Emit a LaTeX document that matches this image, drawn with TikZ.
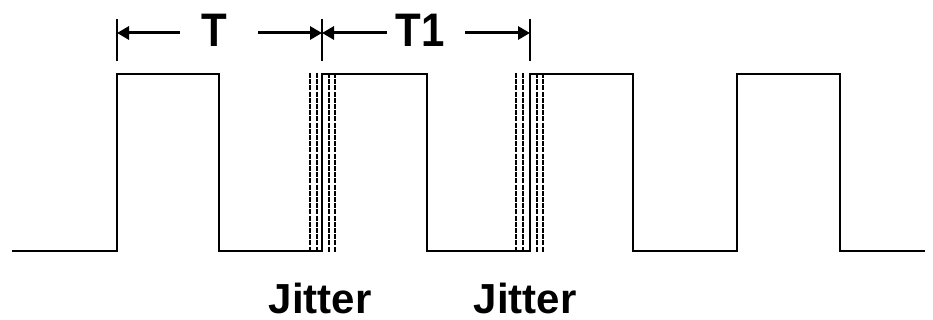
\documentclass[tikz,border=0pt]{standalone}
\usepackage{fontspec}
\setmainfont{Liberation Sans}
\usetikzlibrary{arrows.meta}
\tikzset{
  wave/.style={line width=2pt, line join=miter},
  jit/.style={line width=2pt, dash pattern=on 5pt off 1.2pt},
  tick/.style={line width=2pt},
  dimarrow/.style={line width=3pt, -{Triangle[length=12pt,width=13pt]}},
  lbl/.style={inner sep=0pt, anchor=base, font=\bfseries\fontsize{42}{42}\selectfont},
}
\begin{document}
\begin{tikzpicture}[x=1pt,y=-1pt]
\useasboundingbox (0,0) rectangle (933,320);
% waveform
\draw[wave] (12,251) -- (117,251) -- (117,74) -- (219,74) -- (219,251) -- (322,251) -- (322,74)
  -- (427,74) -- (427,251) -- (530,251) -- (530,74) -- (633,74) -- (633,251) -- (737,251)
  -- (737,74) -- (840,74) -- (840,251) -- (925,251);
% jitter lines
\foreach \x in {310,317,329,335,516,523,537,543}
  \draw[jit] (\x,73) -- (\x,252);
% ticks
\coordinate (t0) at (117,33);
\coordinate (t1) at (322,33);
\coordinate (t2) at (530,33);
\draw[tick] (117,19) -- (117,61);
\draw[tick] (322,19) -- (322,61);
\draw[tick] (530,19) -- (530,61);
% labels
\node[lbl] (T) at (214,47) {\scalebox{1}[1.12]{T}};
\node[lbl] (T1) at (420,47) {\scalebox{1}[1.12]{T1}};
\node[lbl] (J1) at (320,313) {Jitter};
\node[lbl] (J2) at (525,313) {Jitter};
% arrows
\coordinate (a1) at (180,33);
\coordinate (a2) at (258,33);
\coordinate (a3) at (387,33);
\coordinate (a4) at (465,33);
\draw[dimarrow] (a1) -- (t0);
\draw[dimarrow] (a2) -- (t1);
\draw[dimarrow] (a3) -- (t1);
\draw[dimarrow] (a4) -- (t2);
\end{tikzpicture}
\end{document}
